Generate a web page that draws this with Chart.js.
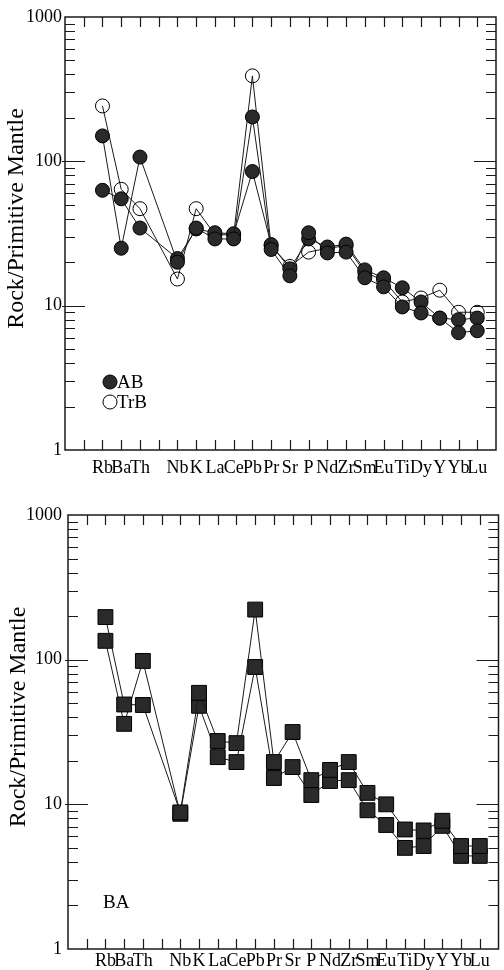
<!DOCTYPE html>
<html>
<head>
<meta charset="utf-8">
<script src="https://cdn.jsdelivr.net/npm/chart.js@4.4.1/dist/chart.umd.min.js"></script>
<style>
  html, body { margin: 0; padding: 0; background: #fff; overflow: hidden; }
  #wrap { position: relative; width: 504px; height: 970px; overflow: hidden; }
  .panel { position: absolute; left: 0; }
  #top { top: 0; width: 504px; height: 485px; }
  #bottom { top: 485px; width: 510px; height: 485px; }
</style>
</head>
<body>
<div id="wrap">
  <div class="panel" id="top"><canvas id="chartTop"></canvas></div>
  <div class="panel" id="bottom"><canvas id="chartBottom"></canvas></div>
</div>
<script>
// x slots along the axis (blank slots have a tick but no element)
const slots = ['', '', 'Rb', 'Ba', 'Th', '', 'Nb', 'K', 'La', 'Ce', 'Pb', 'Pr', 'Sr', 'P', 'Nd', 'Zr', 'Sm', 'Eu', 'Ti', 'Dy', 'Y', 'Yb', 'Lu', ''];
const elements = ['Rb', 'Ba', 'Th', 'Nb', 'K', 'La', 'Ce', 'Pb', 'Pr', 'Sr', 'P', 'Nd', 'Zr', 'Sm', 'Eu', 'Ti', 'Dy', 'Y', 'Yb', 'Lu'];
const yTickLabels = [1, 10, 100, 1000];

// top panel: alkali basalts (AB) and transitional basalts (TrB)
const ab1 = [150, 25, 107, 20, 34.5, 29, 29, 203, 24.5, 16.1, 32, 23.2, 23.5, 15.6, 13.5, 9.8, 8.9, 8.2, 6.5, 6.7];
const ab2 = [63, 55, 34.5, 21.2, 34, 32, 31.5, 85, 26.5, 18, 29, 25.5, 26.7, 17.7, 15.6, 13.3, 10.6, 8.2, 8.0, 8.2];
const trb = [242, 64, 47, 15.3, 47, 31, 31, 391, 26, 18.7, 23.5, 25, 26, 17, 15, 10.6, 11.3, 12.8, 9.0, 9.0];

// bottom panel: basaltic andesites (BA)
const ba1 = [197, 49, 48.6, 8.8, 59, 27.4, 26.5, 222, 19.6, 31.6, 14.7, 17.3, 19.6, 12.0, 10.0, 6.7, 6.6, 7.7, 5.15, 5.15];
const ba2 = [135, 36, 98, 8.6, 48, 21.2, 19.6, 89, 15.2, 18.1, 11.6, 14.5, 14.7, 9.1, 7.2, 5.0, 5.15, 7.1, 4.4, 4.4];

const SERIF = "'Liberation Serif', 'DejaVu Serif', serif";
const INK = '#1a1a1a';
const FILL = '#2a2a2a';

function toPoints(vals) {
  return elements.map((el, i) => ({ x: el, y: vals[i] }));
}

function series(vals, style) {
  const base = {
    data: toPoints(vals),
    borderColor: INK,
    borderWidth: 1,
    pointBorderWidth: 1,
    pointBorderColor: '#000',
    tension: 0,
    order: 1
  };
  if (style === 'filled') {
    return Object.assign(base, { pointStyle: 'circle', pointRadius: 7, pointBackgroundColor: FILL });
  }
  if (style === 'open') {
    return Object.assign(base, { pointStyle: 'circle', pointRadius: 7, pointBackgroundColor: 'rgba(0,0,0,0)', order: 2 });
  }
  return Object.assign(base, { pointStyle: 'rect', pointRadius: 10.5, pointBackgroundColor: FILL });
}

// frame + inward ticks on all four sides
const frameTicks = {
  id: 'frameTicks',
  beforeDatasetsDraw(chart) {
    const { ctx, chartArea: a } = chart;
    const x = chart.scales.x, y = chart.scales.y;
    ctx.save();
    ctx.strokeStyle = INK;
    ctx.lineWidth = 1.5;
    ctx.strokeRect(a.left, a.top, a.right - a.left, a.bottom - a.top);
    ctx.lineWidth = 1.2;
    ctx.beginPath();
    for (let i = 1; i < slots.length - 1; i++) {
      const px = Math.round(x.getPixelForValue(i)) + 0.5;
      ctx.moveTo(px, a.top); ctx.lineTo(px, a.top + 10);
      ctx.moveTo(px, a.bottom); ctx.lineTo(px, a.bottom - 10);
    }
    [1, 10, 100].forEach(d => {
      for (let m = 2; m <= 9; m++) {
        const py = Math.round(y.getPixelForValue(d * m)) + 0.5;
        ctx.moveTo(a.left, py); ctx.lineTo(a.left + 10, py);
        ctx.moveTo(a.right - 10, py); ctx.lineTo(a.right, py);
      }
    });
    [10, 100].forEach(v => {
      const py = Math.round(y.getPixelForValue(v)) + 0.5;
      ctx.moveTo(a.left - 3, py); ctx.lineTo(a.left + 20, py);
      ctx.moveTo(a.right - 22, py); ctx.lineTo(a.right, py);
    });
    ctx.stroke();
    ctx.restore();
  }
};

// y title (sits a little above centre) and in-plot key
const panelText = {
  id: 'panelText',
  afterDatasetsDraw(chart, args, opts) {
    const { ctx, chartArea: a } = chart;
    ctx.save();
    ctx.fillStyle = '#000';
    ctx.font = '24px ' + SERIF;
    ctx.textAlign = 'center';
    ctx.textBaseline = 'middle';
    ctx.translate(opts.titleX, (a.top + a.bottom) / 2 - 15);
    ctx.rotate(-Math.PI / 2);
    ctx.fillText('Rock/Primitive Mantle', 0, 0);
    ctx.restore();

    ctx.save();
    ctx.font = '19px ' + SERIF;
    ctx.textBaseline = 'middle';
    ctx.fillStyle = '#000';
    (opts.key || []).forEach((k, i) => {
      const cx = a.left + opts.keyX;
      const cy = a.top + opts.keyY + i * 20;
      if (k.marker) {
        ctx.beginPath();
        ctx.arc(cx, cy, 7, 0, Math.PI * 2);
        ctx.lineWidth = 1;
        ctx.strokeStyle = '#000';
        if (k.marker === 'filled') { ctx.fillStyle = FILL; ctx.fill(); }
        ctx.stroke();
        ctx.fillStyle = '#000';
        ctx.fillText(k.label, cx + 7, cy + 1);
      } else {
        ctx.fillText(k.label, cx - 7, cy + 1);
      }
    });
    ctx.restore();
  }
};

function makeChart(id, datasets, cfg) {
  return new Chart(document.getElementById(id), {
    type: 'line',
    data: { labels: slots, datasets: datasets },
    options: {
      responsive: true,
      maintainAspectRatio: false,
      animation: false,
      layout: { padding: { top: cfg.padTop, right: cfg.padRight, left: 0, bottom: 0 } },
      scales: {
        x: {
          type: 'category',
          offset: false,
          grid: { display: false, drawTicks: false },
          border: { display: false },
          ticks: {
            autoSkip: false, maxRotation: 0, padding: cfg.xPad,
            color: '#000', font: { family: SERIF, size: 18 }
          },
          afterFit: s => { s.height = cfg.xHeight; }
        },
        y: {
          type: 'logarithmic',
          min: 1, max: 1000,
          grid: { display: false, drawTicks: false },
          border: { display: false },
          ticks: {
            autoSkip: false, padding: cfg.yPad,
            color: '#000', font: { family: SERIF, size: 18 },
            callback: v => yTickLabels.includes(v) ? String(v) : ''
          },
          afterFit: s => { s.width = cfg.yWidth; }
        }
      },
      plugins: {
        legend: { display: false },
        tooltip: { enabled: false },
        panelText: { titleX: cfg.titleX, key: cfg.key, keyX: cfg.keyX, keyY: cfg.keyY }
      }
    },
    plugins: [frameTicks, panelText]
  });
}

makeChart('chartTop', [series(ab1, 'filled'), series(ab2, 'filled'), series(trb, 'open')], {
  padTop: 17, padRight: 2, xHeight: 35, yWidth: 65, xPad: 7, yPad: 3, titleX: 17,
  key: [{ label: 'AB', marker: 'filled' }, { label: 'TrB', marker: 'open' }], keyX: 45, keyY: 365
});

makeChart('chartBottom', [series(ba1, 'square'), series(ba2, 'square')], {
  padTop: 30, padRight: 5, xHeight: 21, yWidth: 68, xPad: 1, yPad: 6, titleX: 19,
  key: [{ label: 'BA' }], keyX: 42, keyY: 387
});
</script>
</body>
</html>
